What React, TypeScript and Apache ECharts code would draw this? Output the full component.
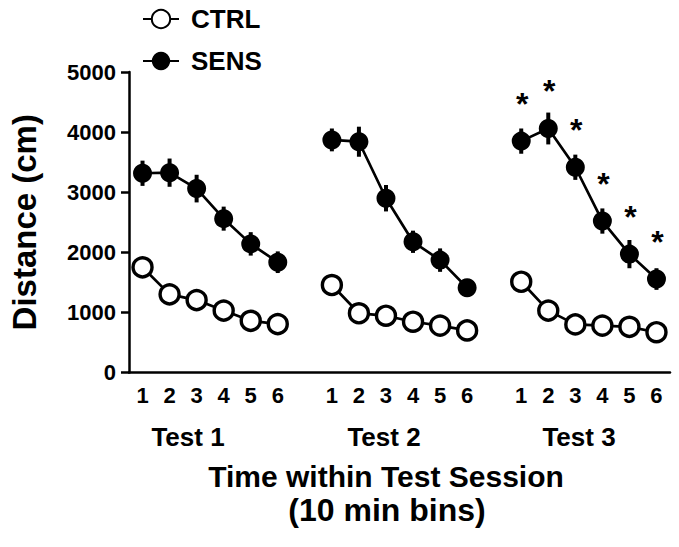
import React, { useEffect, useRef } from 'react';
import * as echarts from 'echarts';

const tests = ['Test 1', 'Test 2', 'Test 3'];
const bins = ['1', '2', '3', '4', '5', '6'];

const ctrlT1 = [1750, 1300, 1205, 1030, 860, 805];
const ctrlT2 = [1455, 985, 945, 845, 780, 700];
const ctrlT3 = [1510, 1030, 800, 780, 760, 670];
const ctrlErrT1 = [90, 80, 70, 70, 60, 60];
const ctrlErrT2 = [90, 70, 60, 60, 60, 50];
const ctrlErrT3 = [90, 80, 60, 60, 60, 50];

const sensT1 = [3315, 3325, 3060, 2560, 2140, 1835];
const sensT2 = [3870, 3840, 2900, 2175, 1870, 1410];
const sensT3 = [3850, 4060, 3415, 2520, 1970, 1555];
const sensErrT1 = [210, 235, 230, 200, 195, 180];
const sensErrT2 = [190, 250, 220, 185, 195, 100];
const sensErrT3 = [210, 265, 210, 210, 235, 180];

// significance markers (SENS vs CTRL), per test
const sigT1 = [false, false, false, false, false, false];
const sigT2 = [false, false, false, false, false, false];
const sigT3 = [true, true, true, true, true, true];

const yTicks = [0, 1000, 2000, 3000, 4000, 5000];

const FONT = '"Liberation Sans", Arial, Helvetica, sans-serif';

export default function App() {
  const ref = useRef<HTMLDivElement>(null);

  useEffect(() => {
    if (!ref.current) return;
    const chart = echarts.init(ref.current, undefined, { renderer: 'svg' });

    const ctrlAll = [ctrlT1, ctrlT2, ctrlT3];
    const ctrlErrAll = [ctrlErrT1, ctrlErrT2, ctrlErrT3];
    const sensAll = [sensT1, sensT2, sensT3];
    const sensErrAll = [sensErrT1, sensErrT2, sensErrT3];
    const sigAll = [sigT1, sigT2, sigT3];

    const cats: string[] = [];
    const ctrlData: any[] = [];
    const sensData: any[] = [];
    const errData: any[] = [];

    tests.forEach((t, ti) => {
      bins.forEach((b, bi) => {
        const idx = cats.length;
        cats.push(`${ti + 1}-${b}`);
        ctrlData.push(ctrlAll[ti][bi]);
        const sv = sensAll[ti][bi];
        if (sigAll[ti][bi]) {
          sensData.push({
            value: sv,
            label: {
              show: true,
              formatter: '*',
              position: 'top',
              distance: 12,
              offset: [1, 0],
              fontSize: 32,
              fontWeight: 'bold',
              fontFamily: FONT,
              color: '#000',
            },
          });
        } else {
          sensData.push(sv);
        }
        errData.push([idx, ctrlAll[ti][bi] - ctrlErrAll[ti][bi], ctrlAll[ti][bi] + ctrlErrAll[ti][bi]]);
        errData.push([idx, sv - sensErrAll[ti][bi], sv + sensErrAll[ti][bi]]);
      });
      if (ti < tests.length - 1) {
        cats.push(`gap${ti}`);
        ctrlData.push(null);
        sensData.push(null);
      }
    });

    const groupCenters = [188, 384, 579];

    chart.setOption({
      animation: false,
      backgroundColor: '#fff',
      textStyle: { fontFamily: FONT },
      legend: {
        data: ['CTRL', 'SENS'],
        orient: 'vertical',
        left: 137,
        top: 1,
        itemWidth: 36,
        itemHeight: 23,
        itemGap: 16,
        textStyle: {
          fontSize: 26,
          fontWeight: 'bold',
          color: '#000',
          fontFamily: FONT,
          padding: [0, 0, 0, 7],
        },
      },
      grid: { left: 122, right: 9, top: 72, bottom: 174.5, containLabel: false },
      xAxis: {
        type: 'category',
        data: cats,
        boundaryGap: true,
        axisLine: { lineStyle: { color: '#000', width: 2.5 } },
        axisTick: {
          alignWithLabel: true,
          length: 6,
          lineStyle: { color: '#000', width: 2.5 },
          interval: (index: number, value: string) => !value.startsWith('gap'),
        },
        axisLabel: {
          interval: 0,
          margin: 12,
          fontSize: 22,
          fontWeight: 'bold',
          color: '#000',
          fontFamily: FONT,
          formatter: (v: string) => (v.startsWith('gap') ? '' : v.split('-')[1]),
        },
        splitLine: { show: false },
      },
      yAxis: {
        type: 'value',
        min: yTicks[0],
        max: yTicks[yTicks.length - 1],
        interval: 1000,
        name: 'Distance (cm)',
        nameLocation: 'middle',
        nameGap: 88,
        nameTextStyle: { fontSize: 33, fontWeight: 'bold', color: '#000', fontFamily: FONT },
        axisLine: { show: true, lineStyle: { color: '#000', width: 2.5 } },
        axisTick: { show: true, length: 8, lineStyle: { color: '#000', width: 2.5 } },
        axisLabel: {
          margin: 13,
          fontSize: 22,
          fontWeight: 'bold',
          color: '#000',
          fontFamily: FONT,
          formatter: (v: number) => String(v),
        },
        splitLine: { show: false },
      },
      graphic: [
        ...tests.map((t, i) => ({
          type: 'text',
          x: groupCenters[i],
          y: 437,
          style: {
            text: t,
            fontSize: 26,
            fontWeight: 'bold',
            fontFamily: FONT,
            fill: '#000',
            align: 'center',
            textAlign: 'center',
            verticalAlign: 'middle',
            textVerticalAlign: 'middle',
          },
        })),
        {
          type: 'text',
          x: 386,
          y: 476,
          style: {
            text: 'Time within Test Session',
            fontSize: 30,
            fontWeight: 'bold',
            fontFamily: FONT,
            fill: '#000',
            align: 'center',
            textAlign: 'center',
            verticalAlign: 'middle',
            textVerticalAlign: 'middle',
          },
        },
        {
          type: 'text',
          x: 387,
          y: 510,
          style: {
            text: '(10 min bins)',
            fontSize: 32,
            fontWeight: 'bold',
            fontFamily: FONT,
            fill: '#000',
            align: 'center',
            textAlign: 'center',
            verticalAlign: 'middle',
            textVerticalAlign: 'middle',
          },
        },
      ],
      series: [
        {
          type: 'custom',
          name: 'err',
          z: 1,
          silent: true,
          data: errData,
          renderItem: (params: any, api: any) => {
            const x = api.value(0);
            const lo = api.coord([x, api.value(1)]);
            const hi = api.coord([x, api.value(2)]);
            return {
              type: 'line',
              shape: { x1: lo[0], y1: lo[1], x2: hi[0], y2: hi[1] },
              style: { stroke: '#000', lineWidth: 4 },
            };
          },
        },
        {
          name: 'CTRL',
          type: 'line',
          z: 3,
          data: ctrlData,
          connectNulls: false,
          symbol: 'circle',
          symbolSize: 19,
          showAllSymbol: true,
          lineStyle: { color: '#000', width: 2.7 },
          itemStyle: { color: '#fff', borderColor: '#000', borderWidth: 3.4 },
        },
        {
          name: 'SENS',
          type: 'line',
          z: 4,
          data: sensData,
          connectNulls: false,
          symbol: 'circle',
          symbolSize: 19,
          showAllSymbol: true,
          lineStyle: { color: '#000', width: 2.7 },
          itemStyle: { color: '#000', borderColor: '#000', borderWidth: 0 },
        },
      ],
    });

    return () => chart.dispose();
  }, []);

  return (
    <div
      ref={ref}
      style={{ position: 'fixed', left: 0, top: 0, width: 679, height: 547, background: '#fff' }}
    />
  );
}
